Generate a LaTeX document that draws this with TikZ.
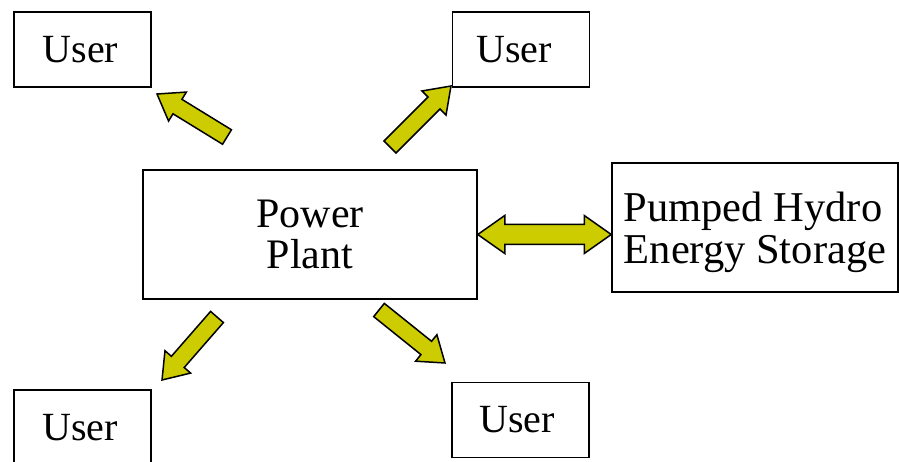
\documentclass[tikz,border=0pt]{standalone}
\usepackage{fontspec}
\setmainfont{Liberation Serif}
\usetikzlibrary{calc}
\definecolor{arrowfill}{RGB}{204,204,0}
\tikzset{
  box/.style={draw=black, line width=1.5pt, inner sep=0pt, align=center,
    font=\fontsize{40}{41}\selectfont},
  userbox/.style={box, minimum width=137pt, minimum height=75pt},
  blockarrow/.style={draw=black, line width=1.5pt, fill=arrowfill, line join=miter},
}
% single block arrow from #1 (tail centre) to #2 (tip)
\newcommand{\blockarr}[2]{%
  \draw[blockarrow] let \p1=(#1), \p2=(#2),
      \n1={atan2(\y2-\y1,\x2-\x1)}, \n2={veclen(\x2-\x1,\y2-\y1)} in
    ([shift={(\p1)},rotate=\n1]0pt,8.5pt)
    -- ([shift={(\p1)},rotate=\n1]\n2-24pt,8.5pt)
    -- ([shift={(\p1)},rotate=\n1]\n2-24pt,17pt)
    -- ([shift={(\p1)},rotate=\n1]\n2,0pt)
    -- ([shift={(\p1)},rotate=\n1]\n2-24pt,-17pt)
    -- ([shift={(\p1)},rotate=\n1]\n2-24pt,-8.5pt)
    -- ([shift={(\p1)},rotate=\n1]0pt,-8.5pt) -- cycle;}
% double block arrow between #1 and #2
\newcommand{\dblarr}[2]{%
  \draw[blockarrow] let \p1=(#1), \p2=(#2),
      \n1={atan2(\y2-\y1,\x2-\x1)}, \n2={veclen(\x2-\x1,\y2-\y1)} in
    ([shift={(\p1)},rotate=\n1]0pt,0pt)
    -- ([shift={(\p1)},rotate=\n1]27pt,19pt)
    -- ([shift={(\p1)},rotate=\n1]27pt,10pt)
    -- ([shift={(\p1)},rotate=\n1]\n2-27pt,10pt)
    -- ([shift={(\p1)},rotate=\n1]\n2-27pt,19pt)
    -- ([shift={(\p1)},rotate=\n1]\n2,0pt)
    -- ([shift={(\p1)},rotate=\n1]\n2-27pt,-19pt)
    -- ([shift={(\p1)},rotate=\n1]\n2-27pt,-10pt)
    -- ([shift={(\p1)},rotate=\n1]27pt,-10pt)
    -- ([shift={(\p1)},rotate=\n1]27pt,-19pt) -- cycle;}
\begin{document}
\begin{tikzpicture}[x=1pt,y=-1pt]
  \path[use as bounding box] (0,0) rectangle (899,462);
  \clip (0,0) rectangle (899,462);
  \fill[white] (0,0) rectangle (899,462);

  \node[userbox] (u1) at (82.5,49.5) {User\kern4pt};
  \node[userbox] (u2) at (521,49.5) {User\kern14pt};
  \node[userbox] (u3) at (82.5,427.5) {User\kern5pt};
  \node[userbox] (u4) at (520.5,420) {User\kern7pt};
  \node[box, minimum width=334pt, minimum height=129pt,
        font=\fontsize{42}{40.5}\selectfont] (pp) at (310,234.5) {Power\\Plant};
  \node[box, minimum width=286pt, minimum height=129pt, text depth=0pt,
        font=\fontsize{42.5}{42}\selectfont, align=left] (phes) at (755,227.5) {Pumped Hydro\\Energy Storage};

  \coordinate (t1) at (227,137);
  \coordinate (h1) at (157,94);
  \coordinate (t2) at (390,147);
  \coordinate (h2) at (451,86);
  \coordinate (t3) at (217,317);
  \coordinate (h3) at (162,380);
  \coordinate (t4) at (379,310);
  \coordinate (h4) at (445,363);

  \blockarr{t1}{h1}
  \blockarr{t2}{h2}
  \blockarr{t3}{h3}
  \blockarr{t4}{h4}
  \dblarr{pp.east}{pp.east -| phes.west}
\end{tikzpicture}
\end{document}
